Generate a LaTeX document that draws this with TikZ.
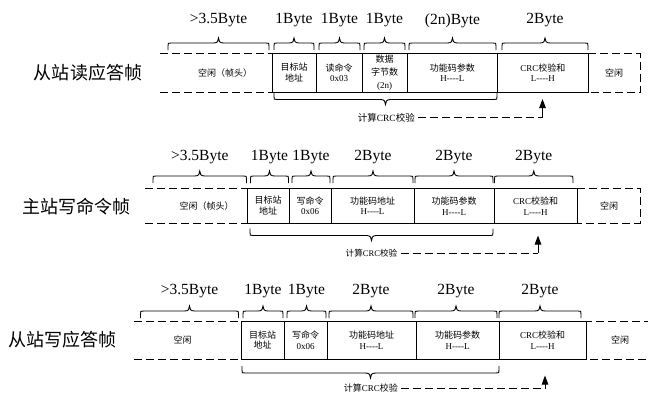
\documentclass[tikz,border=0pt]{standalone}
\usepackage{fontspec}
\setmainfont{Liberation Serif}
\newfontfamily\cjk{Noto Sans CJK SC}
\usetikzlibrary{arrows.meta}
\newcommand\zh[1]{{\cjk #1}}
\newcommand\HL{H-{}-{}-{}-L}
\newcommand\LH{L-{}-{}-{}-H}
% cell: name, x1, x2, ytop, ybottom, text
\newcommand\fcell[6]{%
  \pgfmathsetmacro\fcx{(#2+#3)/2}\pgfmathsetmacro\fcy{(#4+#5)/2}%
  \pgfmathsetmacro\fcw{#3-#2}\pgfmathsetmacro\fch{#5-#4}%
  \node[cellbox, minimum width=\fcw bp, minimum height=\fch bp] (#1) at (\fcx,\fcy) {#6};}
% brace: x1, x2, ybase, direction (-1 up, 1 down)
\newcommand\tbrace[4]{%
  \pgfmathsetmacro\bxm{(#1+#2)/2}%
  \draw[bline] (#1,#3) -- (#1,{#3+(#4)*4}) .. controls (#1,{#3+(#4)*7}) .. ({#1+3},{#3+(#4)*7})
    -- ({\bxm-5},{#3+(#4)*7}) .. controls ({\bxm-1},{#3+(#4)*7}) and (\bxm,{#3+(#4)*9}) .. (\bxm,{#3+(#4)*12})
    .. controls (\bxm,{#3+(#4)*9}) and ({\bxm+1},{#3+(#4)*7}) .. ({\bxm+5},{#3+(#4)*7})
    -- ({#2-3},{#3+(#4)*7}) .. controls (#2,{#3+(#4)*7}) .. (#2,{#3+(#4)*4}) -- (#2,#3);}
\begin{document}
\begin{tikzpicture}[x=1bp,y=-1bp,
  cellbox/.style={draw, line width=0.9bp, inner sep=0pt, align=center,
    font=\fontsize{9bp}{10.8bp}\selectfont},
  celltext/.style={inner sep=0pt, align=center, font=\fontsize{9bp}{10.8bp}\selectfont},
  dline/.style={line width=1bp, dash pattern=on 8bp off 4bp},
  bline/.style={line width=0.9bp},
  title/.style={inner sep=0pt, font=\cjk\fontsize{18bp}{20bp}\selectfont},
  bytelab/.style={inner sep=0pt, font=\fontsize{15.5bp}{17bp}\selectfont},
  calctext/.style={inner sep=0pt, font=\fontsize{9.5bp}{11bp}\selectfont},
  arr/.style={line width=1bp, -{Triangle[length=9bp,width=6.5bp]}}]
\path[use as bounding box] (0,0) rectangle (648,395);

% ================= Row 1 =================
\node[title] (t1) at (88,72.7) {从站读应答帧};
\draw[dline] (160,53.5) -- (272,53.5) (160,92) -- (272,92);
\node[celltext] (r1idle) at (225,72.7) {\zh{空闲（帧头）}};
\fcell{r1a}{272}{316}{53.5}{92}{\zh{目标站}\\\zh{地址}}
\fcell{r1b}{316}{362}{53.5}{92}{\zh{读命令}\\0x03}
\node[cellbox, minimum width=45bp, minimum height=38.5bp,
  font=\fontsize{9bp}{13bp}\selectfont] (r1c) at (384.5,72.75) {\zh{数据}\\\zh{字节数}\\(2n)};
\fcell{r1d}{407}{497.5}{53.5}{92}{\zh{功能码参数}\\\HL}
\fcell{r1e}{497.5}{588}{53.5}{92}{CRC\zh{校验和}\\\LH}
\draw[dline] (588,53.5) -- (640,53.5) -- (640,92) -- (588,92);
\node[celltext] (r1end) at (614,72.7) {\zh{空闲}};
\tbrace{168}{269}{50}{-1}
\tbrace{274}{314}{50}{-1}
\tbrace{319}{360}{50}{-1}
\tbrace{364}{405}{50}{-1}
\tbrace{409}{496}{50}{-1}
\tbrace{502}{588}{50}{-1}
\node[bytelab] (b11) at (218.5,20.5) {>3.5Byte};
\node[bytelab] (b12) at (294,20.5) {1Byte};
\node[bytelab] (b13) at (339.5,20.5) {1Byte};
\node[bytelab] (b14) at (384.5,20.5) {1Byte};
\node[bytelab] (b15) at (452.5,20.5) {(2n)Byte};
\node[bytelab] (b16) at (545,20.5) {2Byte};
\tbrace{274}{497}{92.5}{1}
\node[calctext, anchor=east] (calc1) at (415,117.5) {\zh{计算}CRC\zh{校验}};
\coordinate (k1) at (542.5,117.5);
\coordinate (p1) at (542.5,99);
\draw[dline] ([xshift=3bp]calc1.east) -- (k1);
\draw[arr] (k1) -- (p1);

% ================= Row 2 =================
\node[title] (t2) at (76.7,206.7) {主站写命令帧};
\draw[dline] (145,188.3) -- (247,188.3) (145,223.3) -- (247,223.3);
\node[celltext] (r2idle) at (206.7,205.8) {\zh{空闲（帧头）}};
\fcell{r2a}{247}{289}{188.3}{223.3}{\zh{目标站}\\\zh{地址}}
\fcell{r2b}{289}{331}{188.3}{223.3}{\zh{写命令}\\0x06}
\fcell{r2c}{331}{414}{188.3}{223.3}{\zh{功能码地址}\\\HL}
\fcell{r2d}{414}{494}{188.3}{223.3}{\zh{功能码参数}\\\HL}
\fcell{r2e}{494}{577}{188.3}{223.3}{CRC\zh{校验和}\\\LH}
\draw[dline] (577,188.3) -- (640,188.3) -- (640,223.3) -- (577,223.3);
\node[celltext] (r2end) at (609,205.8) {\zh{空闲}};
\tbrace{153}{246.5}{183}{-1}
\tbrace{250.5}{288.5}{183}{-1}
\tbrace{292}{330}{183}{-1}
\tbrace{333}{413}{183}{-1}
\tbrace{415}{493}{183}{-1}
\tbrace{494.5}{573}{183}{-1}
\node[bytelab] (b21) at (199.75,157.5) {>3.5Byte};
\node[bytelab] (b22) at (269.5,157.5) {1Byte};
\node[bytelab] (b23) at (311,157.5) {1Byte};
\node[bytelab] (b24) at (373,157.5) {2Byte};
\node[bytelab] (b25) at (454,157.5) {2Byte};
\node[bytelab] (b26) at (533.75,157.5) {2Byte};
\tbrace{250}{493}{228.5}{1}
\node[calctext, anchor=east, font=\fontsize{8.6bp}{10bp}\selectfont] (calc2) at (397.5,253) {\zh{计算}CRC\zh{校验}};
\coordinate (k2) at (538,253);
\coordinate (p2) at (538,235.5);
\draw[dline] ([xshift=3bp]calc2.east) -- (k2);
\draw[arr] (k2) -- (p2);

% ================= Row 3 =================
\node[title] (t3) at (62.8,340) {从站写应答帧};
\draw[dline] (134,321) -- (241,321) (134,359) -- (241,359);
\node[celltext] (r3idle) at (182.5,340) {\zh{空闲}};
\fcell{r3a}{241}{284}{321}{359}{\zh{目标站}\\\zh{地址}}
\fcell{r3b}{284}{327}{321}{359}{\zh{写命令}\\0x06}
\fcell{r3c}{327}{416}{321}{359}{\zh{功能码地址}\\\HL}
\fcell{r3d}{416}{499}{321}{359}{\zh{功能码参数}\\\HL}
\fcell{r3e}{499}{586}{321}{359}{CRC\zh{校验和}\\\LH}
\draw[dline] (652,321) -- (586,321) -- (586,359) -- (652,359);
\node[celltext] (r3end) at (620,340) {\zh{空闲}};
\tbrace{140.5}{238.5}{318}{-1}
\tbrace{243}{283}{318}{-1}
\tbrace{287}{326}{318}{-1}
\tbrace{329}{413}{318}{-1}
\tbrace{415}{497}{318}{-1}
\tbrace{499}{581}{318}{-1}
\node[bytelab] (b31) at (189.5,291) {>3.5Byte};
\node[bytelab] (b32) at (263,291) {1Byte};
\node[bytelab] (b33) at (306.5,291) {1Byte};
\node[bytelab] (b34) at (371,291) {2Byte};
\node[bytelab] (b35) at (456,291) {2Byte};
\node[bytelab] (b36) at (540,291) {2Byte};
\tbrace{242}{499}{366}{1}
\node[calctext, anchor=east, font=\fontsize{9bp}{10.5bp}\selectfont] (calc3) at (398,388.5) {\zh{计算}CRC\zh{校验}};
\coordinate (k3) at (545,388.5);
\coordinate (p3) at (545,375.5);
\draw[dline] ([xshift=3bp]calc3.east) -- (k3);
\draw[arr] (k3) -- (p3);
\end{tikzpicture}
\end{document}
